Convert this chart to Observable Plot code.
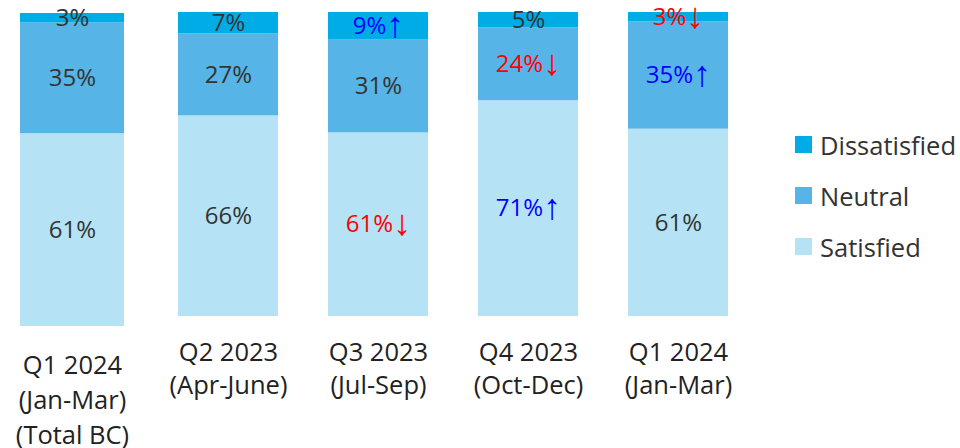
<!DOCTYPE html>
<html>
<head>
<meta charset="utf-8">
<script src="https://cdn.jsdelivr.net/npm/d3@7"></script>
<script src="https://cdn.jsdelivr.net/npm/@observablehq/plot@0.6"></script>
<style>
  html, body { margin: 0; padding: 0; background: #fff; }
  #chart { position: relative; width: 960px; height: 448px; font-family: "Open Sans", sans-serif; }
  #chart > svg, #chart > div { position: absolute; }
  #chart .lg-swatches { font-size: 25.5px; font-family: "Open Sans", sans-serif; color: #333; margin: 0; }
  #chart .lg-swatch { height: 51px; padding: 0; margin: 0; display: flex; align-items: center; }
  #chart .lg-swatch > svg { margin-right: 8px; }
  #chart tspan.arrow { font-family: "Liberation Sans", sans-serif; font-size: 36px; }
</style>
</head>
<body>
<div id="chart"></div>
<script>
// Survey periods (first bar is the province-wide total)
const periods = [
  "Q1 2024\n(Jan-Mar)\n(Total BC)",
  "Q2 2023\n(Apr-June)",
  "Q3 2023\n(Jul-Sep)",
  "Q4 2023\n(Oct-Dec)",
  "Q1 2024\n(Jan-Mar)"
];

// Share of respondents (%) per satisfaction level
const satisfied    = [61, 66, 61, 71, 61];
const neutral      = [35, 27, 31, 24, 35];
const dissatisfied = [3, 7, 9, 5, 3];

// Significant change versus the previous quarter
const satisfiedTrend    = ["", "", "down", "up", ""];
const neutralTrend      = ["", "", "", "down", "up"];
const dissatisfiedTrend = ["", "", "up", "", "down"];

const stackOrder  = ["Satisfied", "Neutral", "Dissatisfied"];
const legendOrder = ["Dissatisfied", "Neutral", "Satisfied"];
const levelColors = {Satisfied: "#b5e3f5", Neutral: "#56b4e6", Dissatisfied: "#00ace6"};
const trendColors = {up: "#0000ff", down: "#ff0000", "": "#333333"};
const arrows = {up: "↑", down: "↓", "": ""};

const rows = periods.flatMap((period, i) => [
  {period, level: "Satisfied", value: satisfied[i], trend: satisfiedTrend[i]},
  {period, level: "Neutral", value: neutral[i], trend: neutralTrend[i]},
  {period, level: "Dissatisfied", value: dissatisfied[i], trend: dissatisfiedTrend[i]}
]);

const font = "'Open Sans', sans-serif";

// Set the trend arrows in a face with tall, slim arrow glyphs
function styleArrows(svg) {
  for (const t of svg.querySelectorAll("text")) {
    const s = t.textContent;
    const last = s.slice(-1);
    if (last === "↑" || last === "↓") {
      t.textContent = s.slice(0, -1);
      const span = document.createElementNS("http://www.w3.org/2000/svg", "tspan");
      span.setAttribute("class", "arrow");
      span.setAttribute("dy", "3");
      span.textContent = last;
      t.appendChild(span);
    }
  }
}

function stackedBars(domain, opts) {
  const data = rows.filter(d => domain.includes(d.period));
  const stack = {x: "period", y: "value", z: "level", order: stackOrder, offset: "normalize"};
  const svg = Plot.plot({
    width: opts.width,
    height: 448,
    marginLeft: opts.marginLeft,
    marginRight: opts.marginRight,
    marginTop: opts.marginTop,
    marginBottom: opts.marginBottom,
    style: {background: "transparent", fontFamily: font, overflow: "visible"},
    x: {domain, paddingInner: opts.paddingInner, paddingOuter: opts.paddingOuter, axis: null},
    y: {axis: null},
    color: {type: "identity"},
    marks: [
      Plot.barY(data, Plot.stackY({...stack, fill: d => levelColors[d.level]})),
      Plot.text(data, Plot.stackY({
        ...stack,
        text: d => `${d.value}%${arrows[d.trend]}`,
        fill: d => trendColors[d.trend],
        fontSize: 24
      })),
      Plot.axisX({
        domain,
        tickSize: 0,
        tickPadding: opts.tickPadding,
        fontSize: 25.5,
        lineHeight: opts.lineHeight,
        fill: "#222",
        label: null
      })
    ]
  });
  styleArrows(svg);
  svg.style.left = opts.left + "px";
  svg.style.top = "0px";
  return svg;
}

const chart = document.getElementById("chart");

chart.append(stackedBars([periods[0]], {
  left: 0, width: 150,
  marginLeft: 20, marginRight: 26, marginTop: 13, marginBottom: 122,
  paddingInner: 0, paddingOuter: 0, tickPadding: 23, lineHeight: 1.37
}));

chart.append(stackedBars(periods.slice(1), {
  left: 150, width: 810,
  marginLeft: 3, marginRight: 207, marginTop: 12, marginBottom: 132,
  paddingInner: 1 / 3, paddingOuter: 1 / 6, tickPadding: 21, lineHeight: 1.3
}));

const legend = Plot.legend({
  color: {type: "ordinal", domain: legendOrder, range: legendOrder.map(l => levelColors[l])},
  legend: "swatches",
  columns: 1,
  swatchSize: 17,
  className: "lg"
});
legend.style.left = "795px";
legend.style.top = "119px";
chart.append(legend);
</script>
</body>
</html>
